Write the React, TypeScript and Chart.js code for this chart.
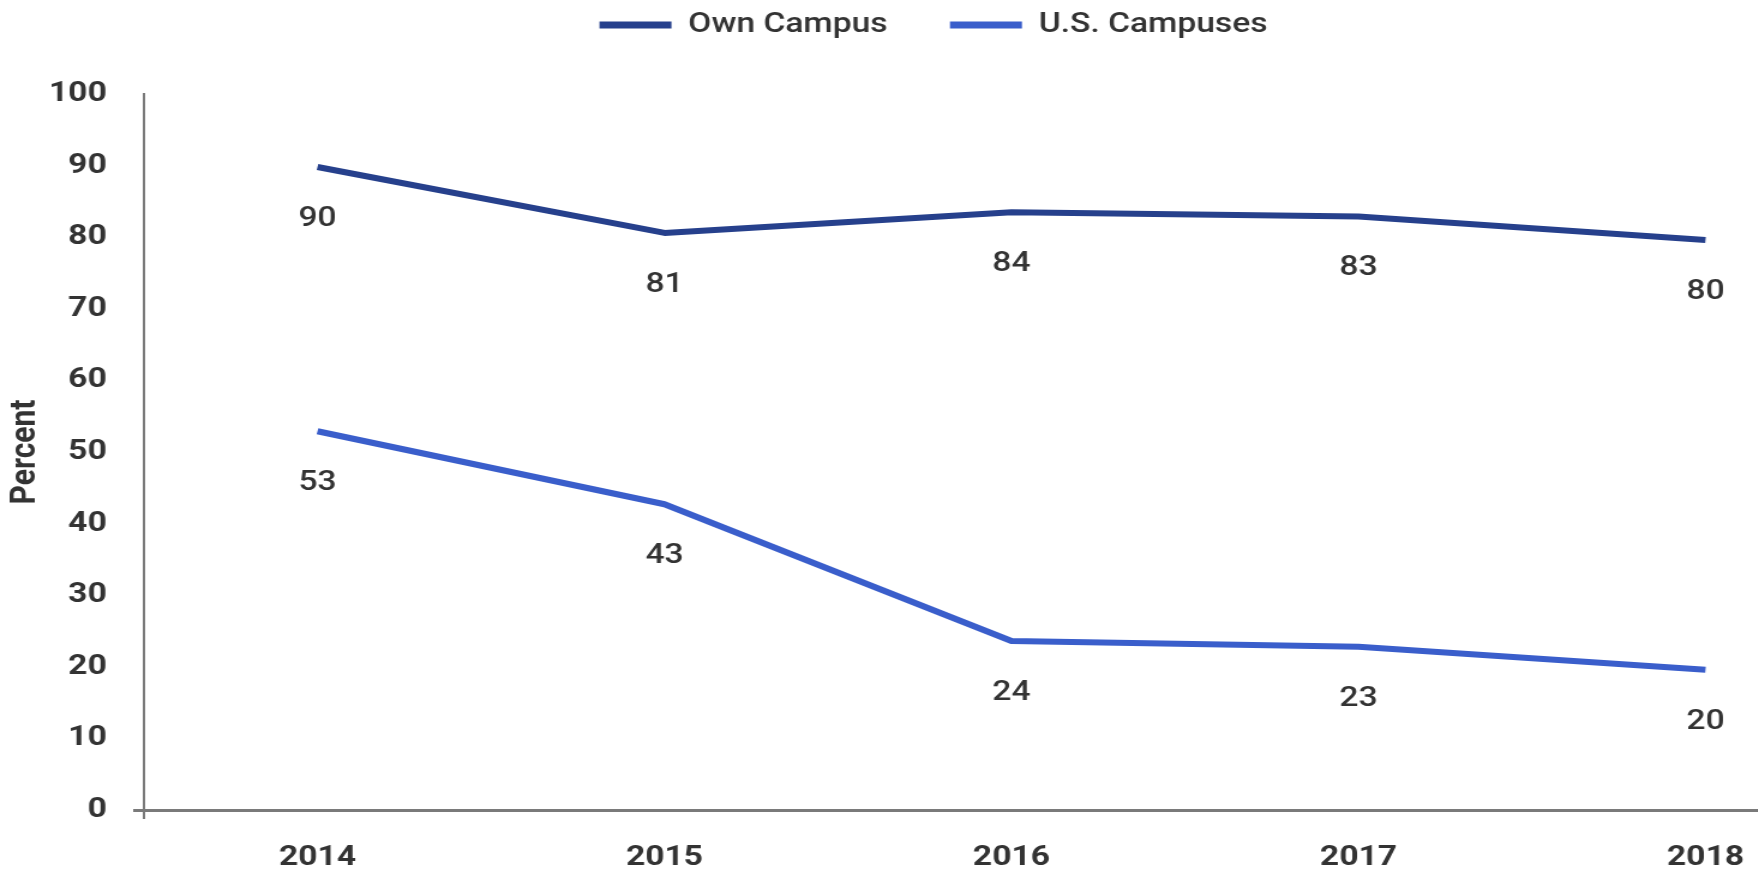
import { useEffect, useRef } from 'react';
import { Chart, registerables } from 'chart.js';

Chart.register(...registerables);

// ---- data ----
const years = ['2014', '2015', '2016', '2017', '2018'];
const ownCampus = [89.8, 80.6, 83.5, 82.9, 79.6];
const usCampuses = [52.9, 42.7, 23.6, 22.8, 19.6];
const seriesNames = ['Own Campus', 'U.S. Campuses'];
const seriesColors = ['#26408c', '#3a5ecb'];
const yRange = [0, 100];
const yStep = 10;
const yTitle = 'Percent';

// ---- look ----
const FONT = 'Roboto';
const TEXT = '#333333';
const AXIS = '#7a7a7a';
const STRETCH = 1.2;
const INNER_W = 1566;
const INNER_H = 870;
const LEGEND_H = 94;
const LEGEND_TOP = -41;
const LEGEND_SHIFT = -5;

const legendTweak = {
  id: 'legendTweak',
  afterInit(chart: any) {
    const lg = chart.legend;
    if (!lg || lg.__patched) return;
    const fit = lg.fit;
    lg.fit = function () {
      fit.call(this);
      this.height = LEGEND_H;
    };
    lg.__patched = true;
  },
  afterLayout(chart: any) {
    const lg = chart.legend;
    if (!lg) return;
    lg.top = LEGEND_TOP;
    lg.bottom = lg.top + lg.height;
    lg.left += LEGEND_SHIFT;
    lg.right += LEGEND_SHIFT;
  },
};

const valueLabels = {
  id: 'valueLabels',
  afterDatasetsDraw(chart: any) {
    const ctx = chart.ctx;
    ctx.save();
    ctx.font = `500 28px ${FONT}`;
    ctx.fillStyle = TEXT;
    ctx.textAlign = 'center';
    ctx.textBaseline = 'middle';
    chart.data.datasets.forEach((ds: any, i: number) => {
      const meta = chart.getDatasetMeta(i);
      meta.data.forEach((pt: any, j: number) => {
        ctx.fillText(String(Math.round(ds.data[j])), pt.x, pt.y + 52);
      });
    });
    ctx.restore();
  },
};

export default function App() {
  const ref = useRef<HTMLCanvasElement>(null);

  useEffect(() => {
    const canvas = ref.current;
    if (!canvas) return;
    const series = [ownCampus, usCampuses];
    const chart = new Chart(canvas, {
      type: 'line',
      data: {
        labels: years,
        datasets: series.map((d, i) => ({
          label: seriesNames[i],
          data: d,
          borderColor: seriesColors[i],
          backgroundColor: seriesColors[i],
          borderWidth: 6,
          pointRadius: 0,
          pointHoverRadius: 0,
          tension: 0,
          borderJoinStyle: 'round' as const,
          fill: false,
        })),
      },
      options: {
        responsive: false,
        animation: false,
        devicePixelRatio: 1,
        layout: { padding: 0 },
        plugins: {
          tooltip: { enabled: false },
          legend: {
            position: 'top',
            align: 'center',
            labels: {
              usePointStyle: true,
              pointStyle: 'line',
              pointStyleWidth: 60,
              padding: 52,
              color: TEXT,
              font: { family: FONT, size: 28, weight: '500' },
              generateLabels: (c: any) =>
                (Chart.defaults.plugins.legend.labels as any)
                  .generateLabels(c)
                  .map((l: any) => ({ ...l, lineWidth: 7, pointStyle: 'line' })),
            },
          },
        },
        scales: {
          x: {
            type: 'category',
            offset: true,
            grid: {
              display: true,
              drawOnChartArea: false,
              offset: true,
              tickLength: 9,
              lineWidth: 2,
              color: (c: any) => (c.index === 0 ? AXIS : 'rgba(0,0,0,0)'),
            },
            border: { display: true, color: AXIS, width: 3 },
            ticks: {
              color: TEXT,
              font: { family: FONT, size: 28, weight: 'bold' },
              padding: 22,
              maxRotation: 0,
              autoSkip: false,
            },
            afterFit: (s: any) => {
              s.height = 60;
            },
          },
          y: {
            min: yRange[0],
            max: yRange[1],
            ticks: {
              stepSize: yStep,
              padding: 22,
              color: TEXT,
              font: { family: FONT, size: 28, weight: 'bold' },
            },
            grid: {
              display: true,
              drawOnChartArea: false,
              tickLength: 9,
              lineWidth: 3,
              color: (c: any) => (c.tick && c.tick.value === 0 ? AXIS : 'rgba(0,0,0,0)'),
            },
            border: { display: true, color: AXIS, width: 2 },
            title: {
              display: true,
              text: yTitle,
              color: TEXT,
              font: { family: FONT, size: 30, weight: 'bold' },
              padding: { top: 3, bottom: 0 },
            },
            afterFit: (s: any) => {
              s.width = 120;
            },
          },
        },
      } as any,
      plugins: [legendTweak, valueLabels],
    });
    return () => chart.destroy();
  }, []);

  return (
    <div
      style={{
        position: 'fixed',
        left: 0,
        top: 0,
        width: 1758,
        height: 870,
        overflow: 'hidden',
        background: '#ffffff',
      }}
    >
      <canvas
        ref={ref}
        width={INNER_W}
        height={INNER_H}
        style={{ display: 'block', width: INNER_W * STRETCH, height: INNER_H }}
      />
    </div>
  );
}
